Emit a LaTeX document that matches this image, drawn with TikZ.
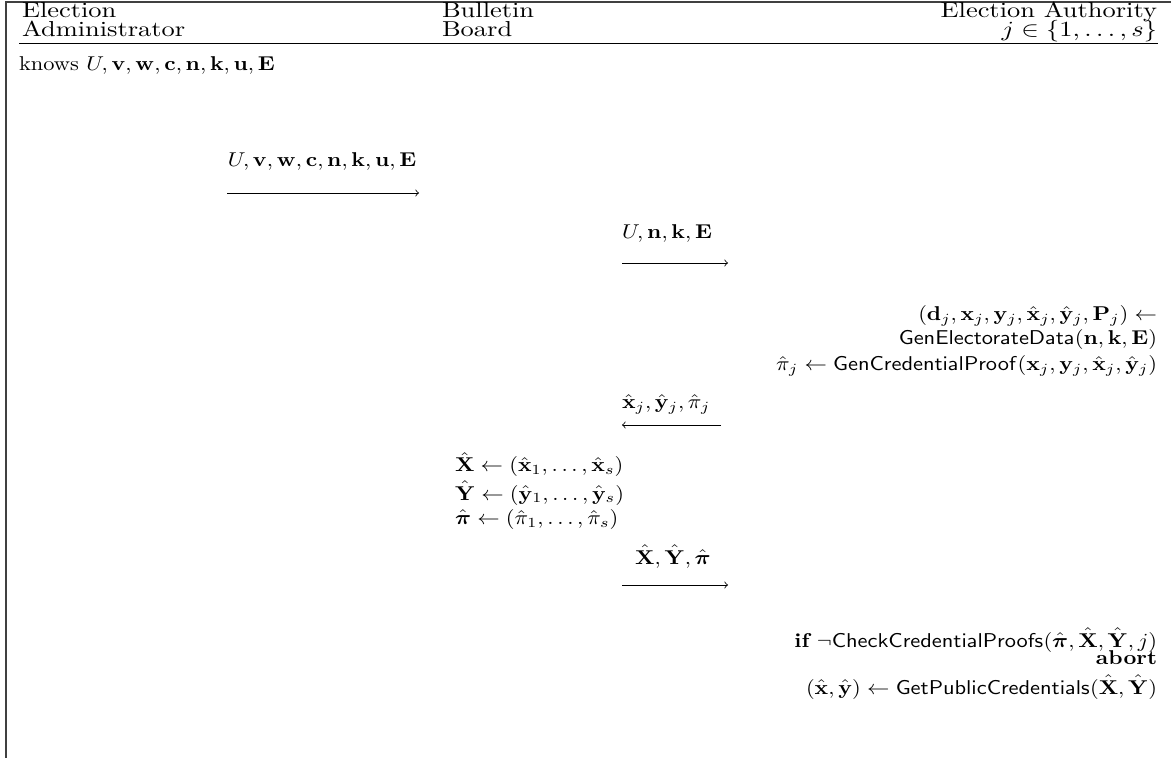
\documentclass[tikz,border=0pt]{standalone}
\usepackage{amsmath,amssymb,bm}
\begin{document}
\begin{tikzpicture}[x=0.5pt,y=-0.5pt,
  txt/.style={inner sep=0pt,outer sep=0pt,xscale=1.12,yscale=1.0},
  lt/.style={txt,anchor=base west},
  rt/.style={txt,anchor=base east},
  hd/.style={xscale=1.18,yscale=1.08},
  msg/.style={line width=0.4pt,-to},
  frame/.style={line width=0.8pt,draw=black!75}]
\useasboundingbox (0,0) rectangle (1171,758);
% frame
\draw[frame] (6,758) -- (6,2) -- (1171,2);
% header
\node[lt,hd] (ea1) at (22,18) {Election};
\node[lt,hd] (ea2) at (22,37) {Administrator};
\node[lt,hd] (bb1) at (442,18) {Bulletin};
\node[lt,hd] (bb2) at (442,37) {Board};
\node[rt,hd] (au1) at (1157,18) {Election Authority};
\node[rt,hd] (au2) at (1157,37) {$j \in \{1,\ldots,s\}$};
\coordinate (r1) at (19,43);
\coordinate (r2) at (1158,43);
\draw[line width=0.4pt] (r1) -- (r2);
% admin knows
\node[lt] (knows) at (19,71) {knows $U,\mathbf{v},\mathbf{w},\mathbf{c},\mathbf{n},\mathbf{k},\mathbf{u},\mathbf{E}$};
% message 1
\coordinate (m1a) at (227,193);
\coordinate (m1b) at (419,193);
\draw[msg] (m1a) -- (m1b);
\node[txt,anchor=base] (l1) at (322,167) {$U,\mathbf{v},\mathbf{w},\mathbf{c},\mathbf{n},\mathbf{k},\mathbf{u},\mathbf{E}$};
% message 2
\coordinate (m2a) at (622,263);
\coordinate (m2b) at (728,263);
\draw[msg] (m2a) -- (m2b);
\node[lt] (l2) at (622,239) {$U,\mathbf{n},\mathbf{k},\mathbf{E}$};
% authority computation
\node[rt] (c1) at (1157,321) {$(\mathbf{d}_j,\mathbf{x}_j,\mathbf{y}_j,\hat{\mathbf{x}}_j,\hat{\mathbf{y}}_j,\mathbf{P}_j) \leftarrow$};
\node[rt] (c2) at (1157,345) {$\mathsf{GenElectorateData}(\mathbf{n},\mathbf{k},\mathbf{E})$};
\node[rt] (c3) at (1157,371) {$\hat{\pi}_j \leftarrow \mathsf{GenCredentialProof}(\mathbf{x}_j,\mathbf{y}_j,\hat{\mathbf{x}}_j,\hat{\mathbf{y}}_j)$};
% message 3
\coordinate (m3a) at (721,425);
\coordinate (m3b) at (622,425);
\draw[msg] (m3a) -- (m3b);
\node[lt] (l3) at (622,409) {$\hat{\mathbf{x}}_j,\hat{\mathbf{y}}_j,\hat{\pi}_j$};
% bulletin board computation
\node[lt] (b1) at (455,472) {$\hat{\mathbf{X}} \leftarrow (\hat{\mathbf{x}}_1,\ldots,\hat{\mathbf{x}}_s)$};
\node[lt] (b2) at (455,500) {$\hat{\mathbf{Y}} \leftarrow (\hat{\mathbf{y}}_1,\ldots,\hat{\mathbf{y}}_s)$};
\node[lt] (b3) at (455,524) {$\hat{\bm{\pi}} \leftarrow (\hat{\pi}_1,\ldots,\hat{\pi}_s)$};
% message 4
\coordinate (m4a) at (622,585);
\coordinate (m4b) at (728,585);
\draw[msg] (m4a) -- (m4b);
\node[txt,anchor=base] (l4) at (673,564) {$\hat{\mathbf{X}},\hat{\mathbf{Y}},\hat{\bm{\pi}}$};
% authority check
\node[rt] (d1) at (1157,647) {$\textbf{if}\ \neg\mathsf{CheckCredentialProofs}(\hat{\bm{\pi}},\hat{\mathbf{X}},\hat{\mathbf{Y}},j)$};
\node[rt] (d2) at (1157,664) {\textbf{abort}};
\node[rt] (d3) at (1157,694) {$(\hat{\mathbf{x}},\hat{\mathbf{y}}) \leftarrow \mathsf{GetPublicCredentials}(\hat{\mathbf{X}},\hat{\mathbf{Y}})$};
\end{tikzpicture}
\end{document}
